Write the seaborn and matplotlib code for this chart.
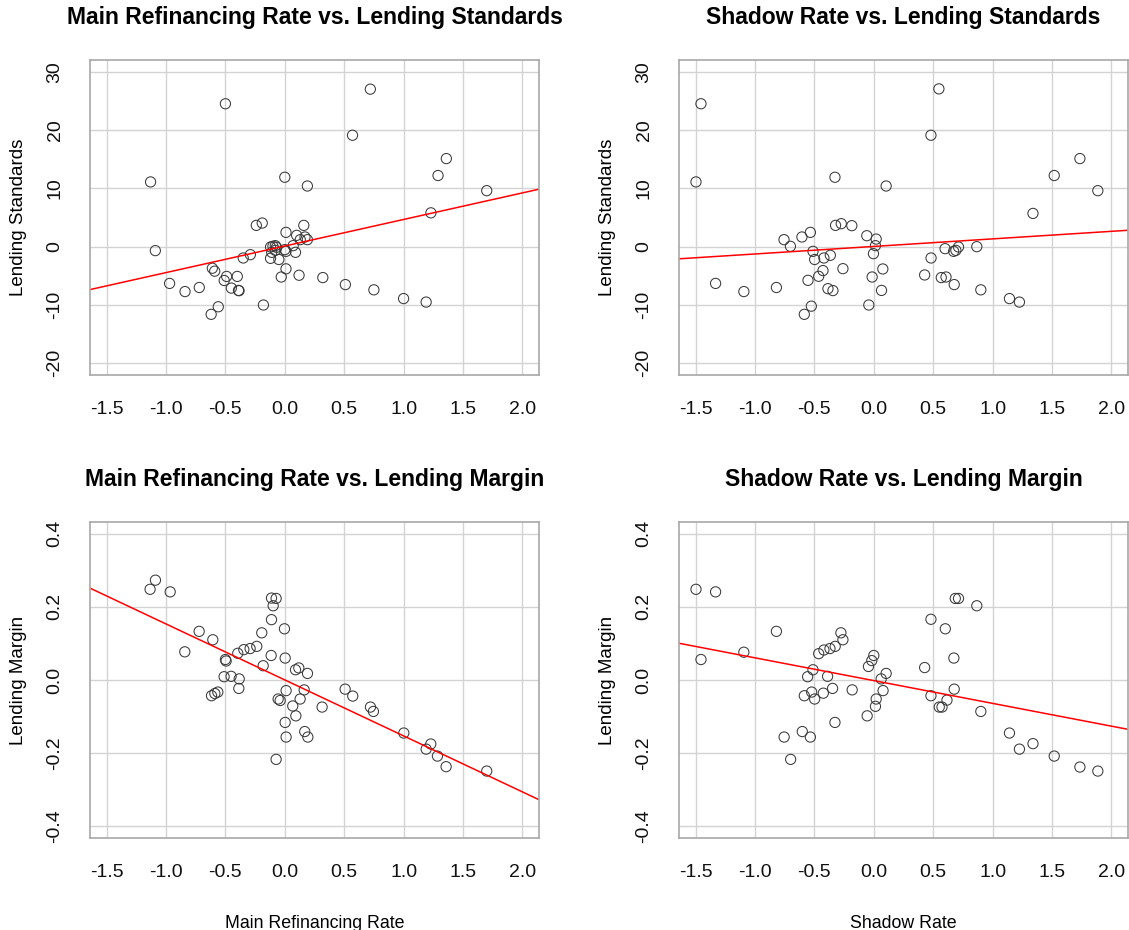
import numpy as np
import matplotlib
matplotlib.use("Agg")
import matplotlib.pyplot as plt
import seaborn as sns

# ---- data ----
mrr_std_x = [-0.50, 0.72, 0.57, 1.36, 1.29, -1.13, 0.00, 0.19, 1.70, 1.23,
             -0.24, -0.19, 0.16, 0.01, 0.10, 0.17, 0.19, 0.13, -1.09, -0.12,
             -0.10, -0.08, -0.07, -0.11, -0.08, 0.00, 0.01, 0.07, 0.09, -0.12,
             -0.05, -0.29, -0.35, 0.01, -0.61, -0.59, -0.03, 0.12, -0.49, -0.51,
             -0.40, 0.32, -0.97, -0.72, -0.84, -0.45, -0.39, -0.385, 0.51, 0.75,
             -0.18, -0.56, -0.62, 1.00, 1.19]
mrr_std_y = [24.5, 27.0, 19.1, 15.1, 12.2, 11.1, 11.9, 10.4, 9.6, 5.8,
             3.65, 4.05, 3.65, 2.45, 1.94, 1.66, 1.2, 1.2, -0.68, -0.06,
             0.06, 0.17, -0.11, -0.97, -0.63, -0.51, -0.8, 0.17, -0.97, -2.0,
             -2.2, -1.37, -1.94, -3.8, -3.7, -4.2, -5.2, -4.9, -5.1, -5.8,
             -5.1, -5.3, -6.3, -7.0, -7.7, -7.1, -7.5, -7.55, -6.5, -7.4,
             -10.0, -10.3, -11.6, -8.9, -9.5]

shadow_std_x = [-1.455, 0.548, 0.481, 1.735, 1.519, -1.497, -0.327, 0.104, 1.886, 1.340,
                -0.322, -0.274, -0.185, -0.534, -0.605, -0.756, -0.059, 0.02, -0.702, 0.014,
                -0.003, -0.512, -0.498, -0.42, -0.366, -0.428, -0.26, -0.464, -0.554, -0.82,
                -0.386, -0.344, -0.526, -0.042, -0.014, 0.076, 0.065, 0.428, 0.482, 0.568,
                0.608, 0.6, 0.672, 0.691, 0.713, 0.867, 0.677, 0.901, 1.142, 1.226,
                -1.332, -1.094, -0.585]
shadow_std_y = [24.5, 27.05, 19.1, 15.1, 12.2, 11.1, 11.9, 10.4, 9.6, 5.7,
                3.65, 3.94, 3.6, 2.45, 1.66, 1.2, 1.88, 1.3, 0.06, 0.17,
                -1.2, -0.8, -2.2, -1.94, -1.48, -4.1, -3.77, -5.08, -5.77, -7.0,
                -7.2, -7.53, -10.2, -10.0, -5.2, -3.82, -7.5, -4.85, -1.94, -5.3,
                -5.2, -0.34, -0.8, -0.63, -0.06, 0.0, -6.5, -7.4, -8.9, -9.5,
                -6.3, -7.7, -11.6]

mrr_mar_x = [-1.089, -1.134, -0.965, -0.112, -0.073, -0.098, -0.112, -0.003, -0.194, -0.721,
             -0.606, -0.842, -0.396, -0.345, -0.292, -0.236, -0.50, -0.494, -0.115, 0.003,
             -0.182, 0.09, 0.118, 0.191, -0.511, -0.452, -0.384, -0.387, -0.617, -0.589,
             -0.564, 0.011, 0.163, -0.056, -0.039, 0.129, 0.067, 0.314, 0.093, 0.508,
             0.572, 0.721, 0.746, 0.003, 0.011, 0.168, 0.194, -0.073, 1.002, 1.229,
             1.19, 1.285, 1.358, 1.70]
mrr_mar_y = [0.273, 0.248, 0.241, 0.224, 0.223, 0.203, 0.165, 0.140, 0.129, 0.133,
             0.110, 0.077, 0.073, 0.083, 0.086, 0.092, 0.056, 0.052, 0.067, 0.060,
             0.039, 0.028, 0.033, 0.018, 0.009, 0.010, 0.003, -0.023, -0.043, -0.037,
             -0.033, -0.029, -0.027, -0.052, -0.056, -0.052, -0.071, -0.074, -0.098, -0.025,
             -0.044, -0.074, -0.086, -0.116, -0.156, -0.141, -0.156, -0.217, -0.145, -0.175,
             -0.189, -0.208, -0.237, -0.249]

shadow_mar_x = [-1.497, -1.332, -1.455, -1.094, -0.82, -0.277, -0.26, -0.464, -0.42, -0.369,
                -0.325, -0.512, -0.557, -0.389, -0.347, -0.523, -0.585, -0.498, -0.425, -0.182,
                0.0, -0.017, -0.045, 0.104, 0.062, 0.078, 0.02, 0.014, -0.056, -0.327,
                -0.602, -0.534, -0.755, -0.70, 0.481, 0.602, 0.686, 0.713, 0.867, 0.674,
                0.428, 0.481, 0.677, 0.551, 0.574, 0.616, 0.901, 1.142, 1.34, 1.226,
                1.519, 1.735, 1.886]
shadow_mar_y = [0.248, 0.241, 0.056, 0.076, 0.133, 0.129, 0.110, 0.072, 0.082, 0.086,
                0.092, 0.028, 0.009, 0.010, -0.023, -0.033, -0.043, -0.052, -0.036, -0.027,
                0.067, 0.053, 0.037, 0.018, 0.003, -0.029, -0.052, -0.072, -0.098, -0.116,
                -0.141, -0.156, -0.156, -0.217, 0.166, 0.140, 0.223, 0.223, 0.203, 0.060,
                0.034, -0.043, -0.025, -0.074, -0.074, -0.055, -0.086, -0.145, -0.174, -0.189,
                -0.208, -0.238, -0.249]

x_ticks = [-1.5, -1.0, -0.5, 0.0, 0.5, 1.0, 1.5, 2.0]
x_ticklabels = ["-1.5", "-1.0", "-0.5", "0.0", "0.5", "1.0", "1.5", "2.0"]
std_ticks = [-20, -10, 0, 10, 20, 30]
std_ticklabels = ["-20", "-10", "0", "10", "20", "30"]
mar_ticks = [-0.4, -0.2, 0.0, 0.2, 0.4]
mar_ticklabels = ["-0.4", "-0.2", "0.0", "0.2", "0.4"]

titles = ["Main Refinancing Rate vs. Lending Standards",
          "Shadow Rate vs. Lending Standards",
          "Main Refinancing Rate vs. Lending Margin",
          "Shadow Rate vs. Lending Margin"]
xlabels = ["", "", "Main Refinancing Rate", "Shadow Rate"]
ylabels = ["Lending Standards", "Lending Standards", "Lending Margin", "Lending Margin"]

# ---- style ----
sns.set_style("white")
plt.rcParams["font.family"] = ["Liberation Sans", "DejaVu Sans"]
plt.rcParams["text.color"] = "black"
plt.rcParams["axes.labelcolor"] = "black"

W, H = 1129, 930
fig = plt.figure(figsize=(W / 100, H / 100), dpi=100)

def px_axes(left, top, right, bottom):
    return fig.add_axes([left / W, 1 - bottom / H, (right - left) / W, (bottom - top) / H])

axes = [px_axes(90, 60, 539, 375), px_axes(679, 60, 1128, 375),
        px_axes(90, 522, 539, 838), px_axes(679, 522, 1128, 838)]

datasets = [(mrr_std_x, mrr_std_y), (shadow_std_x, shadow_std_y),
            (mrr_mar_x, mrr_mar_y), (shadow_mar_x, shadow_mar_y)]

box_col = "#A8A8A8"
for i, (ax, (xs, ys)) in enumerate(zip(axes, datasets)):
    is_std = i < 2
    xlim = (-1.5 - 0.14, 2.0 + 0.14)
    ylim = (-22, 32) if is_std else (-0.432, 0.432)
    ax.set_xlim(*xlim)
    ax.set_ylim(*ylim)
    ax.set_axisbelow(True)
    ax.grid(True, color="#D3D3D3", lw=1.0)
    sns.regplot(x=np.array(xs), y=np.array(ys), ax=ax, ci=None, truncate=False,
                scatter_kws=dict(s=54, facecolors="none", edgecolors="#3a3a3a",
                                 linewidths=0.75, alpha=1.0),
                line_kws=dict(color="#FF0000", lw=1.1))
    ax.set_xlim(*xlim)
    ax.set_ylim(*ylim)
    ax.set_xticks(x_ticks)
    ax.set_xticklabels(x_ticklabels)
    if is_std:
        ax.set_yticks(std_ticks)
        ax.set_yticklabels(std_ticklabels)
    else:
        ax.set_yticks(mar_ticks)
        ax.set_yticklabels(mar_ticklabels)
    for lab in ax.get_yticklabels():
        lab.set_rotation(90)
        lab.set_va("center")
    ax.tick_params(axis="both", direction="out", length=7, width=1, color=box_col,
                   labelsize=14, labelcolor="#111111", pad=12)
    for sp in ax.spines.values():
        sp.set_visible(True)
        sp.set_color(box_col)
        sp.set_linewidth(1.2)
    ax.set_title(titles[i], fontsize=16.5, fontweight="bold", pad=26, color="black")
    ax.set_xlabel(xlabels[i], fontsize=12.8, labelpad=24)
    ax.set_ylabel(ylabels[i], fontsize=13.5, labelpad=14)

fig.savefig("out.png", dpi=100)
